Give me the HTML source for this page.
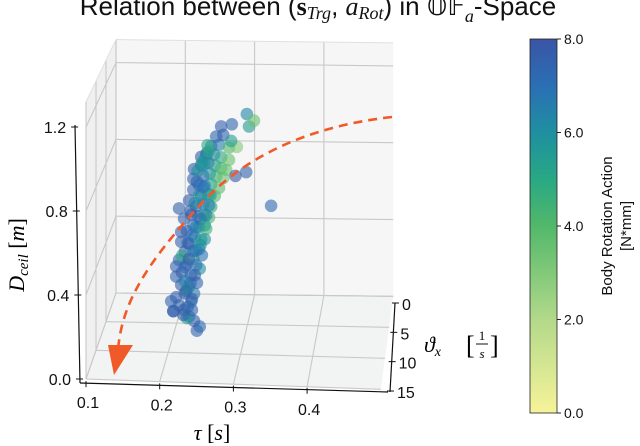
<!DOCTYPE html>
<html><head><meta charset="utf-8"><style>
html,body{margin:0;padding:0;background:#fff;}
svg{display:block;font-family:"Liberation Sans",sans-serif;}
.tk{font-size:16px;fill:#111;}
.ser{font-family:"Liberation Serif",serif;font-style:italic;}
</style></head><body>
<svg id="chart" width="640" height="446" viewBox="0 0 640 446">
<defs>
<linearGradient id="cmap" x1="0" y1="1" x2="0" y2="0">
<stop offset="0" stop-color="#f7f39a"/><stop offset="0.25" stop-color="#b2d98a"/>
<stop offset="0.5" stop-color="#52b86a"/><stop offset="0.625" stop-color="#29a884"/>
<stop offset="0.75" stop-color="#1f8fa0"/><stop offset="0.875" stop-color="#2a6fb5"/>
<stop offset="1" stop-color="#3a55a5"/></linearGradient>
</defs>
<text x="318" y="15" text-anchor="middle" font-size="26" fill="#111">Relation between (<tspan font-weight="bold" font-family="Liberation Serif">s</tspan><tspan class="ser" font-size="18" dy="4">Trg</tspan><tspan dy="-4">, </tspan><tspan class="ser">a</tspan><tspan class="ser" font-size="18" dy="4">Rot</tspan><tspan dy="-4">) in 𝕆𝔽</tspan><tspan class="ser" font-size="18" dy="7">a</tspan><tspan dy="-7">-Space</tspan></text>
<g id="panes"></g>
<g id="grid"></g>
<g id="axes"></g>
<g id="points"></g>
<path d="M392,117 C320,125 250,150 200,205 C150,260 122,300 118,350" fill="none" stroke="#f05a28" stroke-width="2.6" stroke-dasharray="9,6"/>
<polygon points="108,345 133,345 114,375" fill="#f05a28"/>
<text transform="translate(24,255) rotate(-90)" text-anchor="middle" font-size="22" class="ser" font-family="Liberation Serif">D<tspan font-size="15" dy="4">ceil</tspan><tspan dy="-4" font-style="normal">  [</tspan>m<tspan font-style="normal">]</tspan></text>
<text x="212" y="440" text-anchor="middle" font-size="22" font-family="Liberation Serif"><tspan class="ser">τ</tspan>  [<tspan class="ser">s</tspan>]</text>
<g font-family="Liberation Serif" font-size="22">
<text x="424" y="352" class="ser">ϑ<tspan font-size="14" dy="4">x</tspan></text>
<text x="466" y="354" font-size="26">[</text><text x="490" y="354" font-size="26">]</text>
<text x="482" y="340" font-size="13" text-anchor="middle">1</text>
<line x1="476" y1="344" x2="488" y2="344" stroke="#111" stroke-width="1"/>
<text x="482" y="358" font-size="13" text-anchor="middle" class="ser">s</text>
</g>
<rect x="530" y="39" width="27" height="374" fill="url(#cmap)" stroke="#222" stroke-width="0.8"/>
<g id="cbticks"></g>
<text transform="translate(612,226) rotate(-90)" text-anchor="middle" font-size="15" fill="#111"><tspan x="0" dy="0">Body Rotation Action</tspan><tspan x="0" dy="19">[N*mm]</tspan></text>
</svg>
<script>
const tauTicks=[0.1,0.2,0.3,0.4];
const thetaTicks=[0,5,10,15];
const dTicks=[0.0,0.4,0.8,1.2];
const cbTicks=[0,2,4,6,8];
const cbLabels=["0.0","2.0","4.0","6.0","8.0"];
const ptTau=[.233,.237,.229,.222,.200,.208,.215,.225,.204,.216,.211,.222,.204,.212,.225,.219,.208,.228,.216,.232,.222,.211,.230,.239,.219,.228,.236,.246,.215,.225,.235,.243,.250,.208,.232,.242,.253,.222,.239,.249,.258,.228,.244,.253,.264,.233,.242,.251,.260,.270,.229,.239,.249,.258,.267,.274,.239,.247,.257,.267,.278,.253,.264,.278,.289,.260,.270,.281,.267,.282,.306,.303,.313,.287,.302,.337,.219,.212,.229,.237,.204,.197,.226,.216,.200,.219,.233,.244,.211,.236,
.214,.220,.226,.218,.224,.230,.216,.222,.228,.220,.226,.232,.238,.224,.230,.236,.242,.228,.234,.240,.246,.232,.238,.244,.250,.236,.242,.248,.240,.246,.252,.244,.250];
const ptD=[.023,.044,.072,.093,.118,.147,.126,.167,.188,.208,.25,.242,.291,.312,.30,.354,.374,.382,.416,.424,.457,.465,.49,.478,.519,.548,.54,.532,.581,.601,.594,.601,.59,.631,.643,.655,.643,.672,.697,.706,.697,.726,.747,.755,.738,.767,.796,.809,.796,.788,.829,.85,.863,.85,.837,.829,.891,.912,.904,.891,.879,.945,.953,.941,.945,.994,1.003,.974,1.045,1.057,1.048,1.11,1.078,.80,.82,.655,.085,.395,.208,.333,.341,.167,.126,.27,.118,.228,.262,.48,.514,.43,
.10,.14,.18,.22,.26,.30,.34,.38,.42,.46,.50,.54,.58,.62,.66,.70,.74,.78,.82,.86,.90,.35,.45,.55,.65,.75,.85,.95,.40,.60,.70,.88,.92];
const ptTheta=ptTau.map(()=>7);
const ptAction=[7.5,7.2,7.6,7,7.5,7.4,7.8,6.5,7.5,7.6,7.7,5.5,7.5,7.8,7.2,7.6,7.5,4.8,7.7,7,7.8,7.5,6,5.5,7.6,7.4,6.2,4.5,7.5,7.7,6.8,5.5,4.2,7.5,7.6,6.5,4.8,7.7,7.3,5.8,4,7.6,7,5.5,3.8,7.6,7.4,6,4.6,3.5,7.6,7.7,7.2,5.5,4.2,3.6,7.6,7.5,6.5,5,3.5,7.3,6.5,4,3,7.4,7.5,5.5,7.6,7.4,5.6,6.3,3.5,7.8,7.5,7.3,5.5,5,6.8,6,7.5,7.5,7.5,6.5,7.6,5.2,7.4,5.8,7.6,6.6,
7.6,7.4,7.7,7.5,7.2,7.6,7.3,7.7,6.8,7.5,7.0,6.5,7.4,7.6,6.2,5.8,7.0,7.5,6.0,5.2,6.8,7.2,6.0,5.5,6.6,7.0,6.0,5.0,6.9,6.4,5.6,5.8,5.0];
const NS="http://www.w3.org/2000/svg";
function el(t,a,p){const e=document.createElementNS(NS,t);for(const k in a)e.setAttribute(k,a[k]);p.appendChild(e);return e;}
function proj(tau,th,d){
  const f=th/15;
  const xb=116+(tau-0.1)*693, xf=86+(tau-0.1)*737;
  const x=xb+(xf-xb)*f;
  const yb=293+(xb-116)*0.012-d*192, yf=379+(xf-86)*0.035-d*210;
  return [x,yb+(yf-yb)*f];
}
const panes=document.getElementById('panes'),grid=document.getElementById('grid'),axes=document.getElementById('axes');
function poly(pts,fill,p){return el('polygon',{points:pts.map(q=>q.join(',')).join(' '),fill:fill},p);}
const T0=0.1,T1=0.5,Z1=1.32;
poly([proj(T0,0,0),proj(T1,0,0),proj(T1,0,Z1),proj(T0,0,Z1)],'#f6f6f6',panes);
poly([proj(T0,0,0),proj(T0,15,0),proj(T0,15,Z1),proj(T0,0,Z1)],'#f0f0f0',panes);
poly([proj(T0,0,0),proj(T1,0,0),proj(T1,15,0),proj(T0,15,0)],'#f2f3f3',panes);
function ln(a,b,p,c,w){return el('line',{x1:a[0],y1:a[1],x2:b[0],y2:b[1],stroke:c,'stroke-width':w},p);}
tauTicks.forEach(t=>{ln(proj(t,0,0),proj(t,0,Z1),grid,'#c8c8c8',1.1);ln(proj(t,0,0),proj(t,15,0),grid,'#c8c8c8',1.1);});
dTicks.forEach(d=>{ln(proj(T0,0,d),proj(T1,0,d),grid,'#c8c8c8',1.1);ln(proj(T0,0,d),proj(T0,15,d),grid,'#c8c8c8',1.1);});
thetaTicks.forEach(th=>{ln(proj(T0,th,0),proj(T1,th,0),grid,'#c8c8c8',1.1);ln(proj(T0,th,0),proj(T0,th,Z1),grid,'#c8c8c8',1.1);});
ln(proj(T0,0,Z1),proj(T1,0,Z1),grid,'#e0e0e0',1);
ln(proj(T0,0,Z1),proj(T0,15,Z1),grid,'#e0e0e0',1);
ln([80,383],[388,392],axes,'#111',1.2);
ln([75,125],[80,383],axes,'#111',1.2);
ln([395,303],[390,392],axes,'#111',1.2);
tauTicks.forEach(t=>{const x=86+(t-0.1)*737;const y=383+(x-82)*0.03;
  const tk=ln([x,y-2],[x,y+4],axes,'#111',1);
  const tx=el('text',{x:x+2,y:y+25,'text-anchor':'middle',class:'tk'},axes);tx.textContent=t.toFixed(1);
  });
dTicks.forEach(d=>{const y=379-d*210;const x=75+(379-y)/258*(-5)+5;
  ln([x-4,y],[x+3,y],axes,'#111',1);
  const tx=el('text',{x:x-9,y:y+6,'text-anchor':'end',class:'tk'},axes);tx.textContent=d.toFixed(1);
  });
thetaTicks.forEach(th=>{const y=303+th/15*88;const x=395-th/15*5;
  ln([x-3,y],[x+4,y],axes,'#111',1);
  const tx=el('text',{x:x+7,y:y+7,class:'tk'},axes);tx.textContent=th;
  });
const stops=[[0,[247,243,154]],[2,[178,217,138]],[4,[82,184,106]],[5,[41,168,132]],[6,[31,143,160]],[7,[42,111,181]],[8,[58,85,165]]];
function cmap(v){for(let i=1;i<stops.length;i++){if(v<=stops[i][0]){const a=stops[i-1],b=stops[i],f=(v-a[0])/(b[0]-a[0]);
  return 'rgb('+a[1].map((c,k)=>Math.round(c+(b[1][k]-c)*f)).join(',')+')';}}return 'rgb(58,85,165)';}
const pg=document.getElementById('points');
ptTau.forEach((t,i)=>{const p=proj(t,ptTheta[i],ptD[i]);
  const c=el('circle',{cx:p[0],cy:p[1],r:6.3,fill:cmap(ptAction[i]),'fill-opacity':0.6},pg);
  
  });
const cb=document.getElementById('cbticks');
cbTicks.forEach((v,i)=>{const y=413-v/8*374;
  ln([557,y],[561,y],cb,'#222',1);
  const tx=el('text',{x:564,y:y+5,'font-size':'14',fill:'#111'},cb);tx.textContent=cbLabels[i];
  });
</script>
</body></html>
